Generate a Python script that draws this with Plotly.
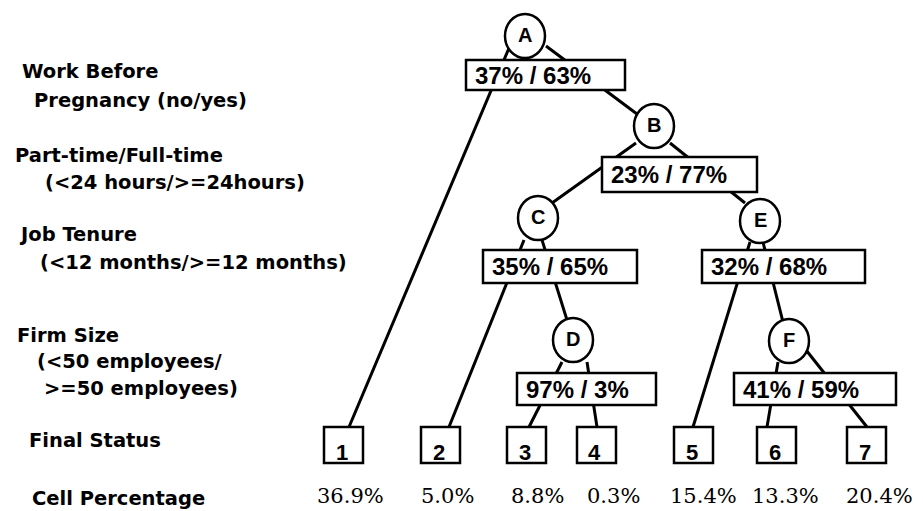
import plotly.graph_objects as go

# ---------------- data ----------------
split_nodes = ["A", "B", "C", "D", "E", "F"]
split_no = [37, 23, 35, 97, 32, 41]
split_yes = [63, 77, 65, 3, 68, 59]
leaf_ids = ["1", "2", "3", "4", "5", "6", "7"]
cell_pct = [36.9, 5.0, 8.8, 0.3, 15.4, 13.3, 20.4]
level_labels = [
    ["Work Before", "Pregnancy (no/yes)"],
    ["Part-time/Full-time", "(<24 hours/>=24hours)"],
    ["Job Tenure", "(<12 months/>=12 months)"],
    ["Firm Size", "(<50 employees/", ">=50 employees)"],
    ["Final Status"],
    ["Cell Percentage"],
]
edges = [("A", "1"), ("A", "B"), ("B", "C"), ("B", "E"), ("C", "2"), ("C", "D"),
         ("D", "3"), ("D", "4"), ("E", "5"), ("E", "F"), ("F", "6"), ("F", "7")]

# ---------------- layout geometry (pixels) ----------------
W, H = 923, 511
node_center = {"A": (525, 36), "B": (654, 126), "C": (538, 218),
               "D": (573, 340), "E": (760, 221), "F": (789, 341)}
node_r = (20, 22)
split_box = {"A": (466, 60, 625, 90), "B": (602, 157, 757, 192),
             "C": (483, 250, 637, 283), "E": (702, 250, 865, 283),
             "D": (517, 373, 656, 405), "F": (734, 373, 896, 405)}
leaf_left = [324, 421, 507, 577, 674, 757, 847]
leaf_w, leaf_top, leaf_bot = 39, 427, 463
pct_x = [350, 447, 537, 613, 703, 785, 879]
edge_geom = {
    ("A", "1"): (509, 48, 349, 427), ("A", "B"): (546, 46, 641, 117),
    ("B", "C"): (636, 143, 552, 203), ("B", "E"): (670, 143, 745, 203),
    ("C", "2"): (524, 240, 449, 427), ("C", "D"): (542, 240, 567, 320),
    ("D", "3"): (562, 362, 529, 427), ("D", "4"): (587, 362, 597, 427),
    ("E", "5"): (750, 242, 693, 427), ("E", "F"): (763, 242, 783, 322),
    ("F", "6"): (778, 362, 767, 427), ("F", "7"): (806, 350, 867, 427),
}
label_pos = [  # (x, y) per line
    [(20, 71), (32, 100)],
    [(13, 155), (43, 182)],
    [(17, 234), (38, 262)],
    [(15, 335), (35, 361), (42, 388)],
    [(27, 440)],
    [(30, 498)],
]

fig = go.Figure()
fig.add_trace(go.Scatter(x=[0, W], y=[0, H], mode="markers",
                         marker=dict(opacity=0), hoverinfo="skip", showlegend=False))

shapes = []
for e in edges:
    x0, y0, x1, y1 = edge_geom[e]
    shapes.append(dict(type="line", x0=x0, y0=y0, x1=x1, y1=y1,
                       line=dict(color="black", width=3), layer="above"))
for n in split_nodes:
    cx, cy = node_center[n]
    shapes.append(dict(type="circle", x0=cx - node_r[0], x1=cx + node_r[0],
                       y0=cy - node_r[1], y1=cy + node_r[1],
                       fillcolor="white", line=dict(color="black", width=2.5), layer="above"))
for n in split_nodes:
    x0, y0, x1, y1 = split_box[n]
    shapes.append(dict(type="rect", x0=x0, y0=y0, x1=x1, y1=y1,
                       fillcolor="white", line=dict(color="black", width=2.5), layer="above"))
for xl in leaf_left:
    shapes.append(dict(type="rect", x0=xl, y0=leaf_top, x1=xl + leaf_w, y1=leaf_bot,
                       fillcolor="white", line=dict(color="black", width=2.5), layer="above"))

ann = []
sans_b = "Liberation Sans"
for i, n in enumerate(split_nodes):
    cx, cy = node_center[n]
    ann.append(dict(x=cx, y=cy - 1, text=f"<b>{n}</b>", showarrow=False,
                    font=dict(family=sans_b, size=20, color="black"),
                    xanchor="center", yanchor="middle"))
    x0, y0, x1, y1 = split_box[n]
    ann.append(dict(x=x0 + 7, y=(y0 + y1) / 2, text=f"<b>{split_no[i]}% / {split_yes[i]}%</b>",
                    showarrow=False, font=dict(family=sans_b, size=24, color="black"),
                    xanchor="left", yanchor="middle"))
for i, lid in enumerate(leaf_ids):
    xl = leaf_left[i]
    ann.append(dict(x=xl + leaf_w / 2 - 2, y=452, text=f"<b>{lid}</b>", showarrow=False,
                    font=dict(family=sans_b, size=22, color="black"),
                    xanchor="center", yanchor="middle"))
    ann.append(dict(x=pct_x[i], y=496, text=f"{cell_pct[i]:.1f}%", showarrow=False,
                    font=dict(family="DejaVu Serif", size=21, color="black"),
                    xanchor="center", yanchor="middle"))
for lines, poss in zip(level_labels, label_pos):
    for t, (x, y) in zip(lines, poss):
        ann.append(dict(x=x, y=y, text=f"<b>{t}</b>", showarrow=False,
                        font=dict(family="DejaVu Sans", size=19.5, color="black"),
                        xanchor="left", yanchor="middle"))

fig.update_layout(
    width=W, height=H, margin=dict(l=0, r=0, t=0, b=0),
    paper_bgcolor="white", plot_bgcolor="white",
    xaxis=dict(range=[0, W], visible=False, fixedrange=True),
    yaxis=dict(range=[H, 0], visible=False, fixedrange=True),
    shapes=shapes, annotations=ann, showlegend=False,
)
fig.write_html("out.html", config={"displayModeBar": False, "staticPlot": True},
               post_script="document.body.style.margin='0';")
